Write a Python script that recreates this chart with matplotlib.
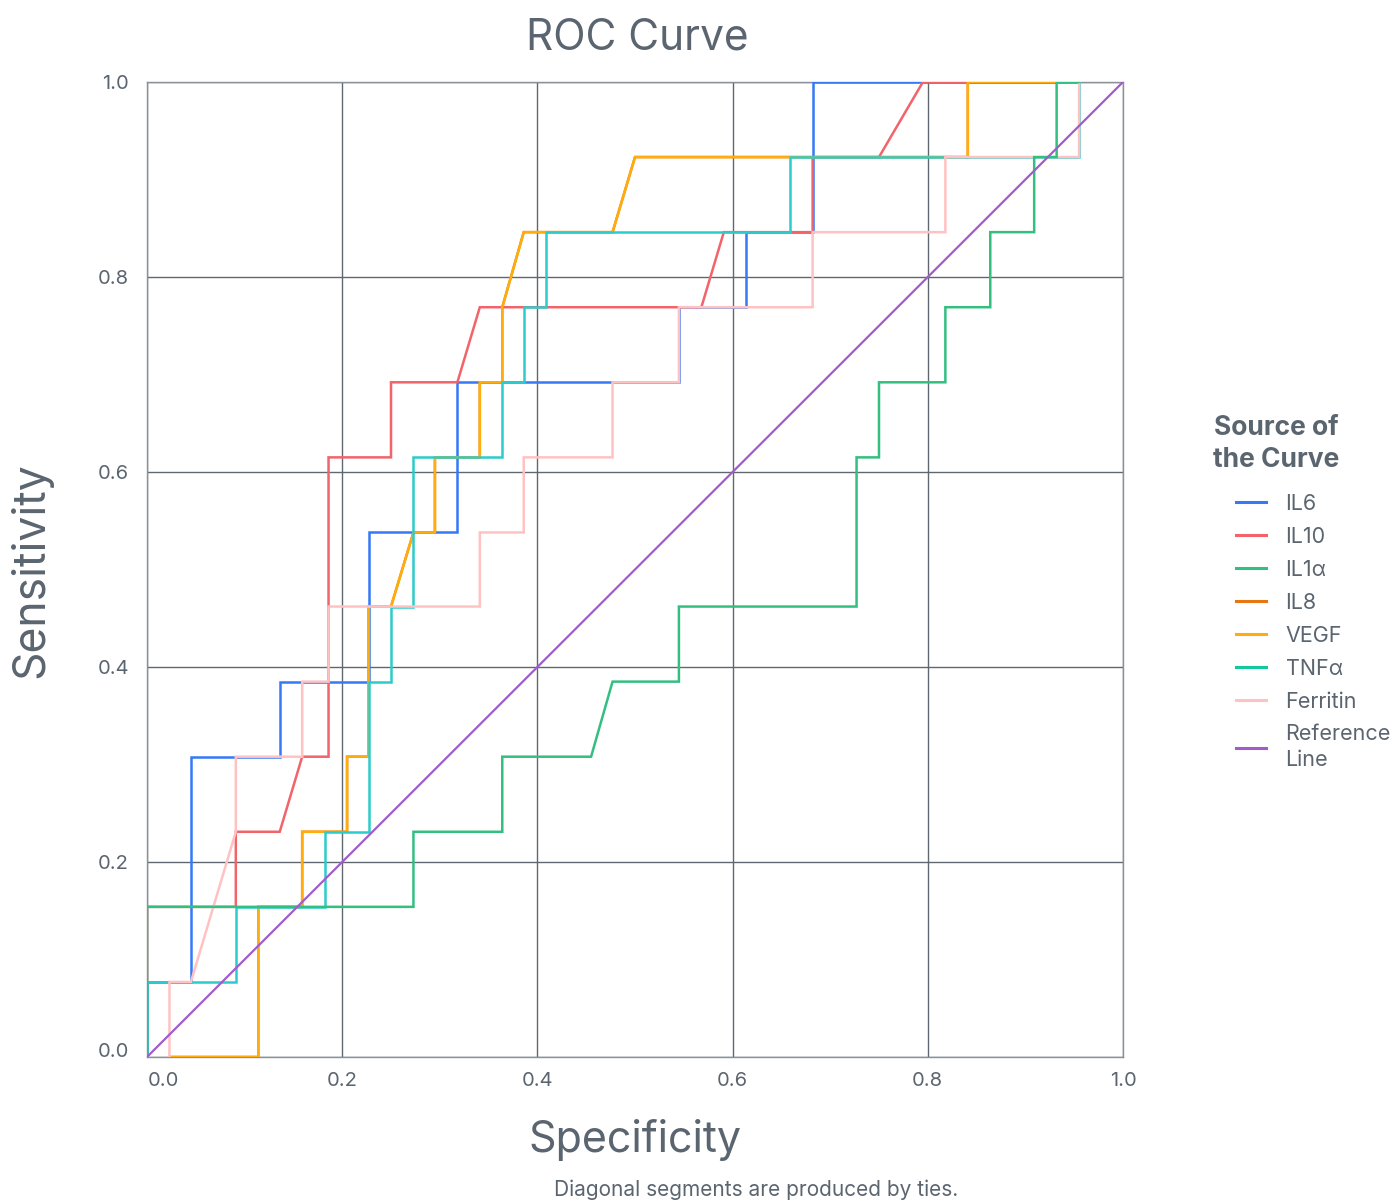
import matplotlib
matplotlib.use("Agg")
import matplotlib.pyplot as plt
import matplotlib.transforms as mtransforms
from matplotlib.lines import Line2D

plt.rcParams["font.family"] = ["Inter", "DejaVu Sans"]

# ROC curve points (x = specificity axis, y = sensitivity)
il6_x = [0, 0, 0.045, 0.045, 0.136, 0.136, 0.227, 0.227, 0.318, 0.318, 0.545, 0.545,
         0.614, 0.614, 0.682, 0.682, 0.955]
il6_y = [0, 0.077, 0.077, 0.308, 0.308, 0.385, 0.385, 0.538, 0.538, 0.692, 0.692, 0.769,
         0.769, 0.846, 0.846, 1.0, 1.0]

il10_x = [0, 0, 0.091, 0.091, 0.136, 0.159, 0.186, 0.186, 0.25, 0.25, 0.318, 0.341,
          0.568, 0.591, 0.682, 0.682, 0.75, 0.795, 0.955]
il10_y = [0, 0.154, 0.154, 0.231, 0.231, 0.308, 0.308, 0.615, 0.615, 0.692, 0.692, 0.769,
          0.769, 0.846, 0.846, 0.923, 0.923, 1.0, 1.0]

il1a_x = [0, 0, 0.273, 0.273, 0.364, 0.364, 0.455, 0.477, 0.545, 0.545, 0.727, 0.727,
          0.75, 0.75, 0.818, 0.818, 0.864, 0.864, 0.909, 0.909, 0.932, 0.932, 0.955]
il1a_y = [0, 0.154, 0.154, 0.231, 0.231, 0.308, 0.308, 0.385, 0.385, 0.462, 0.462, 0.615,
          0.615, 0.692, 0.692, 0.769, 0.769, 0.846, 0.846, 0.923, 0.923, 1.0, 1.0]

# IL8 is not visible in the chart: it sits under VEGF
il8_x = [0.023, 0.114, 0.114, 0.159, 0.159, 0.205, 0.205, 0.227, 0.227, 0.25, 0.273, 0.295,
         0.295, 0.341, 0.341, 0.364, 0.364, 0.386, 0.477, 0.5, 0.841, 0.841, 0.955]
il8_y = [0, 0, 0.154, 0.154, 0.231, 0.231, 0.308, 0.308, 0.462, 0.462, 0.538, 0.538,
         0.615, 0.615, 0.692, 0.692, 0.769, 0.846, 0.846, 0.923, 0.923, 1.0, 1.0]

vegf_x = [0.023, 0.114, 0.114, 0.159, 0.159, 0.205, 0.205, 0.227, 0.227, 0.25, 0.273, 0.295,
          0.295, 0.341, 0.341, 0.364, 0.364, 0.386, 0.477, 0.5, 0.841, 0.841, 0.955]
vegf_y = [0, 0, 0.154, 0.154, 0.231, 0.231, 0.308, 0.308, 0.462, 0.462, 0.538, 0.538,
          0.615, 0.615, 0.692, 0.692, 0.769, 0.846, 0.846, 0.923, 0.923, 1.0, 1.0]

tnfa_x = [0, 0, 0.091, 0.091, 0.182, 0.182, 0.227, 0.227, 0.25, 0.25, 0.273, 0.273,
          0.364, 0.364, 0.386, 0.386, 0.409, 0.409, 0.659, 0.659, 0.955, 0.955]
tnfa_y = [0, 0.077, 0.077, 0.154, 0.154, 0.231, 0.231, 0.385, 0.385, 0.462, 0.462, 0.615,
          0.615, 0.692, 0.692, 0.769, 0.769, 0.846, 0.846, 0.923, 0.923, 1.0]

ferritin_x = [0.023, 0.023, 0.045, 0.091, 0.091, 0.159, 0.159, 0.186, 0.186, 0.341, 0.341,
              0.386, 0.386, 0.477, 0.477, 0.545, 0.545, 0.682, 0.682, 0.818, 0.818, 0.955, 0.955]
ferritin_y = [0, 0.077, 0.077, 0.231, 0.308, 0.308, 0.385, 0.385, 0.462, 0.462, 0.538,
              0.538, 0.615, 0.615, 0.692, 0.692, 0.769, 0.769, 0.846, 0.846, 0.923, 0.923, 1.0]

ref_x = [0, 1]
ref_y = [0, 1]

ticks = [0.0, 0.2, 0.4, 0.6, 0.8, 1.0]
tick_labels = ["0.0", "0.2", "0.4", "0.6", "0.8", "1.0"]

text_color = "#5b6570"
W, H = 1390, 1201

fig = plt.figure(figsize=(W / 100, H / 100), dpi=100)
ax = fig.add_axes([147 / W, 1 - 1057 / H, (1123 - 147) / W, (1057 - 82) / H])

# drawing order chosen so overlaps look like the reference
curves = [
    (il6_x, il6_y, "#3579f6"),
    (il10_x, il10_y, "#f2636a"),
    (il8_x, il8_y, "#e8760f"),
    (vegf_x, vegf_y, "#ffad0d"),
    (tnfa_x, tnfa_y, "#2ccccc"),
    (ferritin_x, ferritin_y, "#ffc2c2"),
    (il1a_x, il1a_y, "#33bf80"),
]
for xs, ys, c in curves:
    ax.plot(xs, ys, color=c, lw=1.8, solid_joinstyle="miter", zorder=3)
ax.plot(ref_x, ref_y, color="#a25bcb", lw=1.6, zorder=4)

ax.set_xlim(0, 1)
ax.set_ylim(0, 1)
ax.set_xticks(ticks)
ax.set_yticks(ticks)
# the first labels are drawn by hand below, nudged inside like the reference
ax.set_xticklabels([""] + tick_labels[1:])
ax.set_yticklabels([""] + tick_labels[1:])
ax.tick_params(length=0, labelsize=14.5, labelcolor=text_color)
ax.tick_params(axis="x", pad=11)
ax.tick_params(axis="y", pad=13)

shift_x = mtransforms.ScaledTranslation(16 / 100, -11 / 72, fig.dpi_scale_trans)
ax.text(0, 0, tick_labels[0], transform=ax.transAxes + shift_x, ha="center", va="top",
        fontsize=14.5, color=text_color)
shift_y = mtransforms.ScaledTranslation(-13 / 72, 5 / 100, fig.dpi_scale_trans)
ax.text(0, 0, tick_labels[0], transform=ax.transAxes + shift_y, ha="right", va="center",
        fontsize=14.5, color=text_color)

ax.grid(True, color="#5f6871", lw=1.0, zorder=1)
for s in ax.spines.values():
    s.set_color("#8a9198")
    s.set_linewidth(1.0)

fig.text(637 / W, 1 - 38 / H, "ROC Curve", ha="center", va="center",
         fontsize=30.5, color=text_color)
fig.text(31 / W, 1 - 570 / H, "Sensitivity", ha="center", va="center",
         rotation=90, fontsize=32, color=text_color)
fig.text(635 / W, 1 - 1140 / H, "Specificity", ha="center", va="center",
         fontsize=31, color=text_color)
fig.text(756 / W, 1 - 1190 / H, "Diagonal segments are produced by ties.",
         ha="center", va="center", fontsize=15, color=text_color)

# legend
fig.text(1276 / W, 1 - 444 / H, "Source of\nthe Curve", ha="center", va="center",
         fontsize=19, fontweight="bold", color=text_color, linespacing=1.3)
names = ["IL6", "IL10", "IL1\u03b1", "IL8", "VEGF", "TNF\u03b1", "Ferritin", "Reference\nLine"]
legend_colors = ["#3579f6", "#f2636a", "#33bf80", "#e8760f", "#ffad0d", "#12c99b",
                 "#ffc2c2", "#a25bcb"]
handles = [Line2D([], [], color=c, lw=2.2) for c in legend_colors]
leg = fig.legend(handles, names, loc="upper left",
                 bbox_to_anchor=(1236 / W, 1 - 494 / H), frameon=False,
                 fontsize=15.5, handlelength=1.4, handletextpad=0.9,
                 labelspacing=0.6, borderpad=0, borderaxespad=0)
for t in leg.get_texts():
    t.set_color(text_color)
    t.set_linespacing(1.35)

fig.savefig("out.png", dpi=100)
plt.close()
